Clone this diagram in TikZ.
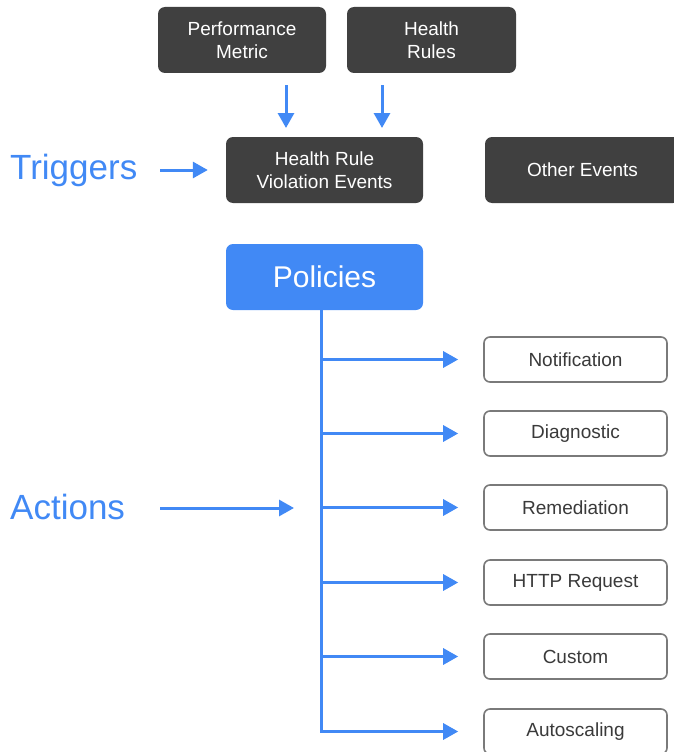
\documentclass[tikz,border=0pt]{standalone}
\usepackage{fontspec}
\setmainfont{Liberation Sans}
\usetikzlibrary{arrows.meta,calc}
\definecolor{darkbox}{HTML}{404040}
\definecolor{bluec}{HTML}{4189F5}
\definecolor{actborder}{HTML}{7A7A7A}
\definecolor{acttext}{HTML}{3A3A3A}
\begin{document}
\begin{tikzpicture}[x=1pt,y=-1pt,
  darknode/.style={draw=none,fill=darkbox,rounded corners=7pt,text=white,
    font=\fontsize{19}{23}\selectfont,align=center,inner sep=0pt},
  bluenode/.style={draw=none,fill=bluec,rounded corners=7pt,text=white,
    font=\fontsize{30}{34}\selectfont,inner sep=0pt},
  actnode/.style={draw=actborder,line width=1.6pt,fill=white,rounded corners=6pt,
    text=acttext,font=\fontsize{19}{23}\selectfont,inner sep=0pt},
  label/.style={text=bluec,font=\fontsize{35}{40}\selectfont,inner sep=0pt},
  conn/.style={draw=bluec,line width=3pt,-{Triangle[length=15pt,width=16pt]}},
  trunk/.style={draw=bluec,line width=3pt}
]
\useasboundingbox (0,0) rectangle (673,752);
% top boxes
\node[darknode,minimum width=168pt,minimum height=66pt] (perf) at (242,40) {Performance\\Metric};
\node[darknode,minimum width=169pt,minimum height=66pt] (rules) at (431.5,40) {Health\\Rules};
\node[darknode,minimum width=197pt,minimum height=66pt] (hrve) at (324.5,170) {Health Rule\\Violation Events};
\node[darknode,minimum width=195pt,minimum height=66pt] (other) at (582.5,170) {Other Events};
% policies
\node[bluenode,minimum width=197pt,minimum height=66pt] (pol) at (324.5,277) {Policies};
% labels
\node[label,anchor=west] (trig) at (10,170) {Triggers};
\node[label,anchor=west] (act) at (10,507) {Actions};
% action boxes
\node[actnode,minimum width=183pt,minimum height=45pt] (a1) at (575.5,359.5) {Notification};
\node[actnode,minimum width=183pt,minimum height=45pt] (a2) at (575.5,433.5) {Diagnostic};
\node[actnode,minimum width=183pt,minimum height=45pt] (a3) at (575.5,507.5) {Remediation};
\node[actnode,minimum width=183pt,minimum height=45pt] (a4) at (575.5,582.5) {HTTP Request};
\node[actnode,minimum width=183pt,minimum height=45pt] (a5) at (575.5,656.5) {Custom};
\node[actnode,minimum width=183pt,minimum height=45pt] (a6) at (575.5,731.5) {Autoscaling};
% connectors top
\coordinate (d1s) at (286,85);
\coordinate (d1e) at (286,128);
\coordinate (d2s) at (382,85);
\coordinate (d2e) at (382,128);
\draw[conn] (d1s) -- (d1e);
\draw[conn] (d2s) -- (d2e);
\coordinate (t1) at (160,170);
\draw[conn] (t1) -- ($(hrve.west)+(-18,0)$);
\coordinate (t2) at (160,508);
\coordinate (t2e) at (294,508);
\draw[conn] (t2) -- (t2e);
% trunk
\coordinate (tr) at (321,310);
\coordinate (trb) at (321,733);
\draw[trunk] (tr) -- (trb);
\foreach \i in {1,...,6}{
  \draw[conn] (tr |- a\i.west) -- ($(a\i.west)+(-25,0)$);
}
\end{tikzpicture}
\end{document}
